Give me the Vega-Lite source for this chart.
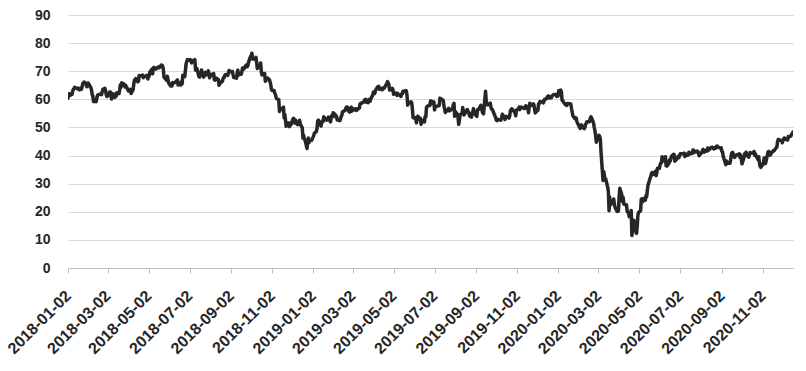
{
"$schema": "https://vega.github.io/schema/vega-lite/v6.json",
"width": 725, "height": 253,
"autosize": "none",
"padding": {"left": 68, "top": 15, "right": 13, "bottom": 103},
"background": "white",
"config": {"view": {"stroke": null}},
"data": {"values": [
{"d":"2018-01-02","v":60.37},{"d":"2018-01-03","v":61.63},{"d":"2018-01-04","v":62.01},{"d":"2018-01-05","v":61.44},{"d":"2018-01-08","v":61.73},{"d":"2018-01-09","v":62.96},{"d":"2018-01-10","v":63.57},{"d":"2018-01-11","v":63.8},{"d":"2018-01-12","v":64.3},{"d":"2018-01-16","v":63.73},{"d":"2018-01-17","v":63.97},{"d":"2018-01-18","v":63.95},{"d":"2018-01-19","v":63.37},{"d":"2018-01-22","v":63.57},{"d":"2018-01-23","v":64.47},{"d":"2018-01-24","v":65.61},{"d":"2018-01-25","v":65.51},{"d":"2018-01-26","v":66.14},{"d":"2018-01-29","v":65.56},{"d":"2018-01-30","v":64.5},{"d":"2018-01-31","v":64.73},
{"d":"2018-02-01","v":65.8},{"d":"2018-02-02","v":65.45},{"d":"2018-02-05","v":64.15},{"d":"2018-02-06","v":63.39},{"d":"2018-02-07","v":61.79},{"d":"2018-02-08","v":61.15},{"d":"2018-02-09","v":59.2},{"d":"2018-02-12","v":59.29},{"d":"2018-02-13","v":59.19},{"d":"2018-02-14","v":60.6},{"d":"2018-02-15","v":61.34},{"d":"2018-02-16","v":61.68},{"d":"2018-02-20","v":61.9},{"d":"2018-02-21","v":61.68},{"d":"2018-02-22","v":62.77},{"d":"2018-02-23","v":63.55},{"d":"2018-02-26","v":63.91},{"d":"2018-02-27","v":63.01},{"d":"2018-02-28","v":61.64},
{"d":"2018-03-01","v":60.99},{"d":"2018-03-02","v":61.25},{"d":"2018-03-05","v":62.57},{"d":"2018-03-06","v":62.6},{"d":"2018-03-07","v":61.15},{"d":"2018-03-08","v":60.12},{"d":"2018-03-09","v":62.04},{"d":"2018-03-12","v":61.36},{"d":"2018-03-13","v":60.71},{"d":"2018-03-14","v":61.96},{"d":"2018-03-15","v":61.19},{"d":"2018-03-16","v":62.34},{"d":"2018-03-19","v":62.06},{"d":"2018-03-20","v":63.4},{"d":"2018-03-21","v":65.17},{"d":"2018-03-22","v":64.3},{"d":"2018-03-23","v":65.88},{"d":"2018-03-26","v":65.55},{"d":"2018-03-27","v":65.25},{"d":"2018-03-28","v":64.38},{"d":"2018-03-29","v":64.94},
{"d":"2018-04-02","v":63.01},{"d":"2018-04-03","v":63.51},{"d":"2018-04-04","v":63.37},{"d":"2018-04-05","v":63.54},{"d":"2018-04-06","v":62.06},{"d":"2018-04-09","v":63.42},{"d":"2018-04-10","v":65.51},{"d":"2018-04-11","v":66.82},{"d":"2018-04-12","v":67.07},{"d":"2018-04-13","v":67.39},{"d":"2018-04-16","v":66.22},{"d":"2018-04-17","v":66.52},{"d":"2018-04-18","v":68.47},{"d":"2018-04-19","v":68.29},{"d":"2018-04-20","v":68.38},{"d":"2018-04-23","v":68.64},{"d":"2018-04-24","v":67.7},{"d":"2018-04-25","v":68.05},{"d":"2018-04-26","v":68.19},{"d":"2018-04-27","v":68.1},{"d":"2018-04-30","v":68.57},
{"d":"2018-05-01","v":67.25},{"d":"2018-05-02","v":67.93},{"d":"2018-05-03","v":68.43},{"d":"2018-05-04","v":69.72},{"d":"2018-05-07","v":70.73},{"d":"2018-05-08","v":69.06},{"d":"2018-05-09","v":71.14},{"d":"2018-05-10","v":71.36},{"d":"2018-05-11","v":70.7},{"d":"2018-05-14","v":70.96},{"d":"2018-05-15","v":71.31},{"d":"2018-05-16","v":71.49},{"d":"2018-05-17","v":71.49},{"d":"2018-05-18","v":71.28},{"d":"2018-05-21","v":72.24},{"d":"2018-05-22","v":72.13},{"d":"2018-05-23","v":71.84},{"d":"2018-05-24","v":70.71},{"d":"2018-05-25","v":67.88},{"d":"2018-05-29","v":66.73},{"d":"2018-05-30","v":68.21},{"d":"2018-05-31","v":67.04},
{"d":"2018-06-01","v":65.81},{"d":"2018-06-04","v":64.75},{"d":"2018-06-05","v":65.52},{"d":"2018-06-06","v":64.73},{"d":"2018-06-07","v":65.95},{"d":"2018-06-08","v":65.74},{"d":"2018-06-11","v":66.1},{"d":"2018-06-12","v":66.36},{"d":"2018-06-13","v":66.64},{"d":"2018-06-14","v":66.89},{"d":"2018-06-15","v":65.06},{"d":"2018-06-18","v":65.85},{"d":"2018-06-19","v":65.07},{"d":"2018-06-20","v":66.22},{"d":"2018-06-21","v":65.54},{"d":"2018-06-22","v":68.58},{"d":"2018-06-25","v":68.08},{"d":"2018-06-26","v":70.53},{"d":"2018-06-27","v":72.76},{"d":"2018-06-28","v":73.45},{"d":"2018-06-29","v":74.15},
{"d":"2018-07-02","v":73.94},{"d":"2018-07-03","v":74.14},{"d":"2018-07-05","v":72.94},{"d":"2018-07-06","v":73.8},{"d":"2018-07-09","v":73.85},{"d":"2018-07-10","v":74.11},{"d":"2018-07-11","v":70.38},{"d":"2018-07-12","v":70.33},{"d":"2018-07-13","v":71.01},{"d":"2018-07-16","v":68.06},{"d":"2018-07-17","v":67.91},{"d":"2018-07-18","v":68.76},{"d":"2018-07-19","v":69.46},{"d":"2018-07-20","v":70.46},{"d":"2018-07-23","v":67.89},{"d":"2018-07-24","v":68.52},{"d":"2018-07-25","v":69.3},{"d":"2018-07-26","v":69.61},{"d":"2018-07-27","v":68.69},{"d":"2018-07-30","v":70.13},{"d":"2018-07-31","v":68.76},
{"d":"2018-08-01","v":67.66},{"d":"2018-08-02","v":68.96},{"d":"2018-08-03","v":68.49},{"d":"2018-08-06","v":69.01},{"d":"2018-08-07","v":69.17},{"d":"2018-08-08","v":66.94},{"d":"2018-08-09","v":66.81},{"d":"2018-08-10","v":67.63},{"d":"2018-08-13","v":67.2},{"d":"2018-08-14","v":67.04},{"d":"2018-08-15","v":65.01},{"d":"2018-08-16","v":65.46},{"d":"2018-08-17","v":65.91},{"d":"2018-08-20","v":66.43},{"d":"2018-08-21","v":67.35},{"d":"2018-08-22","v":67.86},{"d":"2018-08-23","v":67.83},{"d":"2018-08-24","v":68.72},{"d":"2018-08-27","v":68.87},{"d":"2018-08-28","v":68.53},{"d":"2018-08-29","v":69.51},{"d":"2018-08-30","v":70.25},{"d":"2018-08-31","v":69.8},
{"d":"2018-09-04","v":69.87},{"d":"2018-09-05","v":68.72},{"d":"2018-09-06","v":67.77},{"d":"2018-09-07","v":67.75},{"d":"2018-09-10","v":67.54},{"d":"2018-09-11","v":69.25},{"d":"2018-09-12","v":70.37},{"d":"2018-09-13","v":68.59},{"d":"2018-09-14","v":68.99},{"d":"2018-09-17","v":68.91},{"d":"2018-09-18","v":69.85},{"d":"2018-09-19","v":71.12},{"d":"2018-09-20","v":70.8},{"d":"2018-09-21","v":70.78},{"d":"2018-09-24","v":72.08},{"d":"2018-09-25","v":72.28},{"d":"2018-09-26","v":71.57},{"d":"2018-09-27","v":72.12},{"d":"2018-09-28","v":73.25},
{"d":"2018-10-01","v":75.3},{"d":"2018-10-02","v":75.23},{"d":"2018-10-03","v":76.41},{"d":"2018-10-04","v":74.33},{"d":"2018-10-05","v":74.34},{"d":"2018-10-08","v":74.29},{"d":"2018-10-09","v":74.96},{"d":"2018-10-10","v":73.17},{"d":"2018-10-11","v":70.97},{"d":"2018-10-12","v":71.34},{"d":"2018-10-15","v":71.78},{"d":"2018-10-16","v":72.92},{"d":"2018-10-17","v":69.75},{"d":"2018-10-18","v":68.65},{"d":"2018-10-19","v":69.12},{"d":"2018-10-22","v":69.17},{"d":"2018-10-23","v":66.43},{"d":"2018-10-24","v":66.82},{"d":"2018-10-25","v":67.33},{"d":"2018-10-26","v":67.59},{"d":"2018-10-29","v":67.04},{"d":"2018-10-30","v":66.18},{"d":"2018-10-31","v":65.31},
{"d":"2018-11-01","v":63.69},{"d":"2018-11-02","v":63.14},{"d":"2018-11-05","v":63.1},{"d":"2018-11-06","v":62.21},{"d":"2018-11-07","v":61.67},{"d":"2018-11-08","v":60.67},{"d":"2018-11-09","v":60.19},{"d":"2018-11-12","v":59.93},{"d":"2018-11-13","v":55.69},{"d":"2018-11-14","v":56.25},{"d":"2018-11-15","v":56.46},{"d":"2018-11-16","v":56.46},{"d":"2018-11-19","v":57.2},{"d":"2018-11-20","v":53.43},{"d":"2018-11-21","v":54.63},{"d":"2018-11-23","v":50.42},{"d":"2018-11-26","v":51.63},{"d":"2018-11-27","v":51.56},{"d":"2018-11-28","v":50.29},{"d":"2018-11-29","v":51.45},{"d":"2018-11-30","v":50.93},
{"d":"2018-12-03","v":52.95},{"d":"2018-12-04","v":53.25},{"d":"2018-12-05","v":52.89},{"d":"2018-12-06","v":51.49},{"d":"2018-12-07","v":52.61},{"d":"2018-12-10","v":51.0},{"d":"2018-12-11","v":51.65},{"d":"2018-12-12","v":51.15},{"d":"2018-12-13","v":52.58},{"d":"2018-12-14","v":51.2},{"d":"2018-12-17","v":49.88},{"d":"2018-12-18","v":46.24},{"d":"2018-12-19","v":47.2},{"d":"2018-12-20","v":45.88},{"d":"2018-12-21","v":45.59},{"d":"2018-12-24","v":42.53},{"d":"2018-12-26","v":46.22},{"d":"2018-12-27","v":44.61},{"d":"2018-12-28","v":45.33},{"d":"2018-12-31","v":45.41},
{"d":"2019-01-02","v":46.54},{"d":"2019-01-03","v":47.09},{"d":"2019-01-04","v":47.96},{"d":"2019-01-07","v":48.52},{"d":"2019-01-08","v":49.78},{"d":"2019-01-09","v":52.36},{"d":"2019-01-10","v":52.59},{"d":"2019-01-11","v":51.59},{"d":"2019-01-14","v":50.51},{"d":"2019-01-15","v":52.11},{"d":"2019-01-16","v":52.31},{"d":"2019-01-17","v":52.07},{"d":"2019-01-18","v":53.8},{"d":"2019-01-22","v":52.57},{"d":"2019-01-23","v":52.62},{"d":"2019-01-24","v":53.13},{"d":"2019-01-25","v":53.69},{"d":"2019-01-28","v":51.99},{"d":"2019-01-29","v":53.31},{"d":"2019-01-30","v":54.23},{"d":"2019-01-31","v":53.79},
{"d":"2019-02-01","v":55.26},{"d":"2019-02-04","v":54.56},{"d":"2019-02-05","v":53.66},{"d":"2019-02-06","v":54.01},{"d":"2019-02-07","v":52.64},{"d":"2019-02-08","v":52.72},{"d":"2019-02-11","v":52.41},{"d":"2019-02-12","v":53.1},{"d":"2019-02-13","v":53.9},{"d":"2019-02-14","v":54.41},{"d":"2019-02-15","v":55.59},{"d":"2019-02-19","v":56.09},{"d":"2019-02-20","v":56.92},{"d":"2019-02-21","v":57.26},{"d":"2019-02-22","v":57.26},{"d":"2019-02-25","v":55.48},{"d":"2019-02-26","v":55.5},{"d":"2019-02-27","v":56.94},{"d":"2019-02-28","v":57.22},
{"d":"2019-03-01","v":55.8},{"d":"2019-03-04","v":56.59},{"d":"2019-03-05","v":56.56},{"d":"2019-03-06","v":56.22},{"d":"2019-03-07","v":56.66},{"d":"2019-03-08","v":56.07},{"d":"2019-03-11","v":56.79},{"d":"2019-03-12","v":56.87},{"d":"2019-03-13","v":58.26},{"d":"2019-03-14","v":58.61},{"d":"2019-03-15","v":58.52},{"d":"2019-03-18","v":59.09},{"d":"2019-03-19","v":59.03},{"d":"2019-03-20","v":59.83},{"d":"2019-03-21","v":59.98},{"d":"2019-03-22","v":59.04},{"d":"2019-03-25","v":58.82},{"d":"2019-03-26","v":59.94},{"d":"2019-03-27","v":59.41},{"d":"2019-03-28","v":59.3},{"d":"2019-03-29","v":60.14},
{"d":"2019-04-01","v":61.59},{"d":"2019-04-02","v":62.58},{"d":"2019-04-03","v":62.46},{"d":"2019-04-04","v":62.1},{"d":"2019-04-05","v":63.08},{"d":"2019-04-08","v":64.4},{"d":"2019-04-09","v":63.98},{"d":"2019-04-10","v":64.61},{"d":"2019-04-11","v":63.58},{"d":"2019-04-12","v":63.89},{"d":"2019-04-15","v":63.4},{"d":"2019-04-16","v":64.05},{"d":"2019-04-17","v":63.76},{"d":"2019-04-18","v":64.0},{"d":"2019-04-22","v":65.7},{"d":"2019-04-23","v":66.3},{"d":"2019-04-24","v":65.89},{"d":"2019-04-25","v":65.21},{"d":"2019-04-26","v":63.3},{"d":"2019-04-29","v":63.5},{"d":"2019-04-30","v":63.91},
{"d":"2019-05-01","v":63.6},{"d":"2019-05-02","v":61.81},{"d":"2019-05-03","v":61.94},{"d":"2019-05-06","v":62.25},{"d":"2019-05-07","v":61.4},{"d":"2019-05-08","v":62.12},{"d":"2019-05-09","v":61.7},{"d":"2019-05-10","v":61.66},{"d":"2019-05-13","v":61.04},{"d":"2019-05-14","v":61.78},{"d":"2019-05-15","v":62.02},{"d":"2019-05-16","v":62.87},{"d":"2019-05-17","v":62.76},{"d":"2019-05-20","v":63.1},{"d":"2019-05-21","v":62.99},{"d":"2019-05-22","v":61.42},{"d":"2019-05-23","v":57.91},{"d":"2019-05-24","v":58.63},{"d":"2019-05-28","v":59.14},{"d":"2019-05-29","v":58.81},{"d":"2019-05-30","v":56.59},{"d":"2019-05-31","v":53.5},
{"d":"2019-06-03","v":53.25},{"d":"2019-06-04","v":53.48},{"d":"2019-06-05","v":51.68},{"d":"2019-06-06","v":52.59},{"d":"2019-06-07","v":53.99},{"d":"2019-06-10","v":53.26},{"d":"2019-06-11","v":53.27},{"d":"2019-06-12","v":51.14},{"d":"2019-06-13","v":52.28},{"d":"2019-06-14","v":52.51},{"d":"2019-06-17","v":51.93},{"d":"2019-06-18","v":53.9},{"d":"2019-06-19","v":53.76},{"d":"2019-06-20","v":57.07},{"d":"2019-06-21","v":57.43},{"d":"2019-06-24","v":57.9},{"d":"2019-06-25","v":57.83},{"d":"2019-06-26","v":59.38},{"d":"2019-06-27","v":59.43},{"d":"2019-06-28","v":58.47},
{"d":"2019-07-01","v":59.09},{"d":"2019-07-02","v":56.25},{"d":"2019-07-03","v":57.34},{"d":"2019-07-05","v":57.51},{"d":"2019-07-08","v":57.66},{"d":"2019-07-09","v":57.83},{"d":"2019-07-10","v":60.43},{"d":"2019-07-11","v":60.2},{"d":"2019-07-12","v":60.21},{"d":"2019-07-15","v":59.58},{"d":"2019-07-16","v":57.62},{"d":"2019-07-17","v":56.78},{"d":"2019-07-18","v":55.3},{"d":"2019-07-19","v":55.63},{"d":"2019-07-22","v":56.22},{"d":"2019-07-23","v":56.77},{"d":"2019-07-24","v":55.88},{"d":"2019-07-25","v":56.02},{"d":"2019-07-26","v":56.2},{"d":"2019-07-29","v":56.87},{"d":"2019-07-30","v":58.05},{"d":"2019-07-31","v":58.58},
{"d":"2019-08-01","v":53.95},{"d":"2019-08-02","v":55.66},{"d":"2019-08-05","v":54.69},{"d":"2019-08-06","v":53.63},{"d":"2019-08-07","v":51.09},{"d":"2019-08-08","v":52.54},{"d":"2019-08-09","v":54.5},{"d":"2019-08-12","v":54.93},{"d":"2019-08-13","v":57.1},{"d":"2019-08-14","v":55.23},{"d":"2019-08-15","v":54.47},{"d":"2019-08-16","v":54.87},{"d":"2019-08-19","v":56.21},{"d":"2019-08-20","v":56.34},{"d":"2019-08-21","v":55.68},{"d":"2019-08-22","v":55.35},{"d":"2019-08-23","v":54.17},{"d":"2019-08-26","v":53.64},{"d":"2019-08-27","v":54.93},{"d":"2019-08-28","v":55.78},{"d":"2019-08-29","v":56.71},{"d":"2019-08-30","v":55.1},
{"d":"2019-09-03","v":53.94},{"d":"2019-09-04","v":56.26},{"d":"2019-09-05","v":56.3},{"d":"2019-09-06","v":56.52},{"d":"2019-09-09","v":57.85},{"d":"2019-09-10","v":57.4},{"d":"2019-09-11","v":55.75},{"d":"2019-09-12","v":55.09},{"d":"2019-09-13","v":54.85},{"d":"2019-09-16","v":62.9},{"d":"2019-09-17","v":59.34},{"d":"2019-09-18","v":58.11},{"d":"2019-09-19","v":58.13},{"d":"2019-09-20","v":58.09},{"d":"2019-09-23","v":58.64},{"d":"2019-09-24","v":57.29},{"d":"2019-09-25","v":56.49},{"d":"2019-09-26","v":56.41},{"d":"2019-09-27","v":55.91},{"d":"2019-09-30","v":54.07},
{"d":"2019-10-01","v":53.62},{"d":"2019-10-02","v":52.64},{"d":"2019-10-03","v":52.45},{"d":"2019-10-04","v":52.81},{"d":"2019-10-07","v":52.75},{"d":"2019-10-08","v":52.63},{"d":"2019-10-09","v":52.59},{"d":"2019-10-10","v":53.55},{"d":"2019-10-11","v":54.7},{"d":"2019-10-14","v":53.59},{"d":"2019-10-15","v":52.81},{"d":"2019-10-16","v":53.36},{"d":"2019-10-17","v":53.93},{"d":"2019-10-18","v":53.78},{"d":"2019-10-21","v":53.31},{"d":"2019-10-22","v":54.16},{"d":"2019-10-23","v":55.97},{"d":"2019-10-24","v":56.23},{"d":"2019-10-25","v":56.66},{"d":"2019-10-28","v":55.81},{"d":"2019-10-29","v":55.54},{"d":"2019-10-30","v":55.06},{"d":"2019-10-31","v":54.18},
{"d":"2019-11-01","v":56.2},{"d":"2019-11-04","v":56.54},{"d":"2019-11-05","v":57.23},{"d":"2019-11-06","v":56.35},{"d":"2019-11-07","v":57.15},{"d":"2019-11-08","v":57.24},{"d":"2019-11-11","v":56.86},{"d":"2019-11-12","v":56.8},{"d":"2019-11-13","v":57.12},{"d":"2019-11-14","v":56.77},{"d":"2019-11-15","v":57.72},{"d":"2019-11-18","v":57.05},{"d":"2019-11-19","v":55.21},{"d":"2019-11-20","v":57.11},{"d":"2019-11-21","v":58.58},{"d":"2019-11-22","v":57.77},{"d":"2019-11-25","v":58.01},{"d":"2019-11-26","v":58.41},{"d":"2019-11-27","v":58.11},{"d":"2019-11-29","v":55.17},
{"d":"2019-12-02","v":55.96},{"d":"2019-12-03","v":56.1},{"d":"2019-12-04","v":58.43},{"d":"2019-12-05","v":58.43},{"d":"2019-12-06","v":59.2},{"d":"2019-12-09","v":59.02},{"d":"2019-12-10","v":59.24},{"d":"2019-12-11","v":58.76},{"d":"2019-12-12","v":59.18},{"d":"2019-12-13","v":60.07},{"d":"2019-12-16","v":60.21},{"d":"2019-12-17","v":60.94},{"d":"2019-12-18","v":60.93},{"d":"2019-12-19","v":61.22},{"d":"2019-12-20","v":60.44},{"d":"2019-12-23","v":60.52},{"d":"2019-12-24","v":61.11},{"d":"2019-12-26","v":61.68},{"d":"2019-12-27","v":61.72},{"d":"2019-12-30","v":61.68},{"d":"2019-12-31","v":61.06},
{"d":"2020-01-02","v":61.18},{"d":"2020-01-03","v":63.05},{"d":"2020-01-06","v":63.27},{"d":"2020-01-07","v":62.7},{"d":"2020-01-08","v":59.61},{"d":"2020-01-09","v":59.56},{"d":"2020-01-10","v":59.04},{"d":"2020-01-13","v":58.08},{"d":"2020-01-14","v":58.23},{"d":"2020-01-15","v":57.81},{"d":"2020-01-16","v":58.52},{"d":"2020-01-17","v":58.54},{"d":"2020-01-21","v":58.34},{"d":"2020-01-22","v":56.74},{"d":"2020-01-23","v":55.59},{"d":"2020-01-24","v":54.19},{"d":"2020-01-27","v":53.14},{"d":"2020-01-28","v":53.48},{"d":"2020-01-29","v":53.33},{"d":"2020-01-30","v":52.14},{"d":"2020-01-31","v":51.56},
{"d":"2020-02-03","v":50.11},{"d":"2020-02-04","v":49.61},{"d":"2020-02-05","v":50.75},{"d":"2020-02-06","v":50.95},{"d":"2020-02-07","v":50.32},{"d":"2020-02-10","v":49.57},{"d":"2020-02-11","v":49.94},{"d":"2020-02-12","v":51.17},{"d":"2020-02-13","v":51.42},{"d":"2020-02-14","v":52.05},{"d":"2020-02-18","v":52.05},{"d":"2020-02-19","v":53.29},{"d":"2020-02-20","v":53.78},{"d":"2020-02-21","v":53.38},{"d":"2020-02-24","v":51.43},{"d":"2020-02-25","v":49.9},{"d":"2020-02-26","v":48.73},{"d":"2020-02-27","v":47.09},{"d":"2020-02-28","v":44.76},
{"d":"2020-03-02","v":46.75},{"d":"2020-03-03","v":47.18},{"d":"2020-03-04","v":46.78},{"d":"2020-03-05","v":45.9},{"d":"2020-03-06","v":41.28},{"d":"2020-03-09","v":31.13},{"d":"2020-03-10","v":34.36},{"d":"2020-03-11","v":32.98},{"d":"2020-03-12","v":31.5},{"d":"2020-03-13","v":31.73},{"d":"2020-03-16","v":28.7},{"d":"2020-03-17","v":26.95},{"d":"2020-03-18","v":20.37},{"d":"2020-03-19","v":25.22},{"d":"2020-03-20","v":22.43},{"d":"2020-03-23","v":23.36},{"d":"2020-03-24","v":24.01},{"d":"2020-03-25","v":24.49},{"d":"2020-03-26","v":22.6},{"d":"2020-03-27","v":21.51},{"d":"2020-03-30","v":20.09},{"d":"2020-03-31","v":20.48},
{"d":"2020-04-01","v":20.31},{"d":"2020-04-02","v":25.32},{"d":"2020-04-03","v":28.34},{"d":"2020-04-06","v":26.08},{"d":"2020-04-07","v":23.63},{"d":"2020-04-08","v":25.09},{"d":"2020-04-09","v":22.76},{"d":"2020-04-13","v":22.41},{"d":"2020-04-14","v":20.11},{"d":"2020-04-15","v":19.87},{"d":"2020-04-16","v":19.87},{"d":"2020-04-17","v":18.27},{"d":"2020-04-20","v":20.43},{"d":"2020-04-21","v":11.57},{"d":"2020-04-22","v":13.78},{"d":"2020-04-23","v":16.5},{"d":"2020-04-24","v":16.94},{"d":"2020-04-27","v":12.78},{"d":"2020-04-28","v":12.34},{"d":"2020-04-29","v":15.06},{"d":"2020-04-30","v":18.84},
{"d":"2020-05-01","v":19.78},{"d":"2020-05-04","v":20.39},{"d":"2020-05-05","v":24.56},{"d":"2020-05-06","v":23.99},{"d":"2020-05-07","v":23.55},{"d":"2020-05-08","v":24.74},{"d":"2020-05-11","v":24.14},{"d":"2020-05-12","v":25.78},{"d":"2020-05-13","v":25.29},{"d":"2020-05-14","v":27.56},{"d":"2020-05-15","v":29.43},{"d":"2020-05-18","v":31.82},{"d":"2020-05-19","v":32.5},{"d":"2020-05-20","v":33.49},{"d":"2020-05-21","v":33.92},{"d":"2020-05-22","v":33.25},{"d":"2020-05-26","v":34.35},{"d":"2020-05-27","v":32.81},{"d":"2020-05-28","v":33.71},{"d":"2020-05-29","v":35.49},
{"d":"2020-06-01","v":35.44},{"d":"2020-06-02","v":36.81},{"d":"2020-06-03","v":37.29},{"d":"2020-06-04","v":37.41},{"d":"2020-06-05","v":39.55},{"d":"2020-06-08","v":38.19},{"d":"2020-06-09","v":38.94},{"d":"2020-06-10","v":39.6},{"d":"2020-06-11","v":36.34},{"d":"2020-06-12","v":36.26},{"d":"2020-06-15","v":37.12},{"d":"2020-06-16","v":38.38},{"d":"2020-06-17","v":37.96},{"d":"2020-06-18","v":38.84},{"d":"2020-06-19","v":39.75},{"d":"2020-06-22","v":40.46},{"d":"2020-06-23","v":40.37},{"d":"2020-06-24","v":38.01},{"d":"2020-06-25","v":38.72},{"d":"2020-06-26","v":38.49},{"d":"2020-06-29","v":39.7},{"d":"2020-06-30","v":39.27},
{"d":"2020-07-01","v":39.82},{"d":"2020-07-02","v":40.65},{"d":"2020-07-06","v":40.63},{"d":"2020-07-07","v":40.62},{"d":"2020-07-08","v":40.9},{"d":"2020-07-09","v":39.62},{"d":"2020-07-10","v":40.55},{"d":"2020-07-13","v":40.1},{"d":"2020-07-14","v":40.29},{"d":"2020-07-15","v":41.2},{"d":"2020-07-16","v":40.75},{"d":"2020-07-17","v":40.59},{"d":"2020-07-20","v":40.81},{"d":"2020-07-21","v":41.96},{"d":"2020-07-22","v":41.9},{"d":"2020-07-23","v":41.07},{"d":"2020-07-24","v":41.29},{"d":"2020-07-27","v":41.6},{"d":"2020-07-28","v":41.04},{"d":"2020-07-29","v":41.27},{"d":"2020-07-30","v":39.92},{"d":"2020-07-31","v":40.27},
{"d":"2020-08-03","v":41.01},{"d":"2020-08-04","v":41.7},{"d":"2020-08-05","v":42.19},{"d":"2020-08-06","v":41.95},{"d":"2020-08-07","v":41.22},{"d":"2020-08-10","v":41.94},{"d":"2020-08-11","v":41.61},{"d":"2020-08-12","v":42.67},{"d":"2020-08-13","v":42.24},{"d":"2020-08-14","v":42.01},{"d":"2020-08-17","v":42.89},{"d":"2020-08-18","v":42.89},{"d":"2020-08-19","v":42.93},{"d":"2020-08-20","v":42.82},{"d":"2020-08-21","v":42.34},{"d":"2020-08-24","v":42.62},{"d":"2020-08-25","v":43.35},{"d":"2020-08-26","v":43.39},{"d":"2020-08-27","v":43.04},{"d":"2020-08-28","v":42.97},{"d":"2020-08-31","v":42.61},
{"d":"2020-09-01","v":42.76},{"d":"2020-09-02","v":41.51},{"d":"2020-09-03","v":41.37},{"d":"2020-09-04","v":39.77},{"d":"2020-09-08","v":36.76},{"d":"2020-09-09","v":38.05},{"d":"2020-09-10","v":37.3},{"d":"2020-09-11","v":37.33},{"d":"2020-09-14","v":37.26},{"d":"2020-09-15","v":38.28},{"d":"2020-09-16","v":40.16},{"d":"2020-09-17","v":40.97},{"d":"2020-09-18","v":41.11},{"d":"2020-09-21","v":39.31},{"d":"2020-09-22","v":39.8},{"d":"2020-09-23","v":39.93},{"d":"2020-09-24","v":40.31},{"d":"2020-09-25","v":40.25},{"d":"2020-09-28","v":40.6},{"d":"2020-09-29","v":39.29},{"d":"2020-09-30","v":40.22},
{"d":"2020-10-01","v":38.72},{"d":"2020-10-02","v":37.05},{"d":"2020-10-05","v":39.22},{"d":"2020-10-06","v":40.67},{"d":"2020-10-07","v":39.95},{"d":"2020-10-08","v":41.19},{"d":"2020-10-09","v":40.6},{"d":"2020-10-12","v":39.43},{"d":"2020-10-13","v":40.2},{"d":"2020-10-14","v":41.04},{"d":"2020-10-15","v":40.96},{"d":"2020-10-16","v":40.88},{"d":"2020-10-19","v":40.83},{"d":"2020-10-20","v":41.46},{"d":"2020-10-21","v":40.03},{"d":"2020-10-22","v":40.64},{"d":"2020-10-23","v":39.85},{"d":"2020-10-26","v":38.56},{"d":"2020-10-27","v":39.57},{"d":"2020-10-28","v":37.39},{"d":"2020-10-29","v":36.17},{"d":"2020-10-30","v":35.79},
{"d":"2020-11-02","v":36.81},{"d":"2020-11-03","v":37.66},{"d":"2020-11-04","v":39.15},{"d":"2020-11-05","v":38.79},{"d":"2020-11-06","v":37.14},{"d":"2020-11-09","v":40.29},{"d":"2020-11-10","v":41.36},{"d":"2020-11-11","v":41.45},{"d":"2020-11-12","v":41.12},{"d":"2020-11-13","v":40.13},{"d":"2020-11-16","v":41.34},{"d":"2020-11-17","v":41.43},{"d":"2020-11-18","v":41.82},{"d":"2020-11-19","v":41.74},{"d":"2020-11-20","v":42.15},{"d":"2020-11-23","v":43.06},{"d":"2020-11-24","v":44.91},{"d":"2020-11-25","v":45.71},{"d":"2020-11-27","v":45.53},{"d":"2020-11-30","v":45.34},
{"d":"2020-12-01","v":44.55},{"d":"2020-12-02","v":45.28},{"d":"2020-12-03","v":45.64},{"d":"2020-12-04","v":46.26},{"d":"2020-12-07","v":45.76},{"d":"2020-12-08","v":45.6},{"d":"2020-12-09","v":45.52},{"d":"2020-12-10","v":46.78},{"d":"2020-12-11","v":46.57},{"d":"2020-12-14","v":46.99},{"d":"2020-12-15","v":47.62},{"d":"2020-12-16","v":47.82},{"d":"2020-12-17","v":48.36}
]},
"mark": {"type": "line", "color": "#262626", "strokeWidth": 3.5, "strokeJoin": "round", "strokeCap": "round", "clip": true},
"encoding": {
  "x": {"field": "d", "type": "temporal", "title": null,
    "scale": {"type": "utc", "domain": [{"year": 2018, "month": 1, "date": 2, "utc": true}, {"year": 2020, "month": 12, "date": 17, "utc": true}]},
    "axis": {
      "values": [
        {"year": 2018, "month": 1, "date": 2, "utc": true}, {"year": 2018, "month": 3, "date": 2, "utc": true}, {"year": 2018, "month": 5, "date": 2, "utc": true}, {"year": 2018, "month": 7, "date": 2, "utc": true}, {"year": 2018, "month": 9, "date": 2, "utc": true}, {"year": 2018, "month": 11, "date": 2, "utc": true},
        {"year": 2019, "month": 1, "date": 2, "utc": true}, {"year": 2019, "month": 3, "date": 2, "utc": true}, {"year": 2019, "month": 5, "date": 2, "utc": true}, {"year": 2019, "month": 7, "date": 2, "utc": true}, {"year": 2019, "month": 9, "date": 2, "utc": true}, {"year": 2019, "month": 11, "date": 2, "utc": true},
        {"year": 2020, "month": 1, "date": 2, "utc": true}, {"year": 2020, "month": 3, "date": 2, "utc": true}, {"year": 2020, "month": 5, "date": 2, "utc": true}, {"year": 2020, "month": 7, "date": 2, "utc": true}, {"year": 2020, "month": 9, "date": 2, "utc": true}, {"year": 2020, "month": 11, "date": 2, "utc": true}
      ],
      "labelExpr": "utcFormat(datum.value, '%Y-%m-%d')",
      "labelAngle": -45, "labelAlign": "right", "labelBaseline": "middle",
      "labelFont": "Liberation Sans", "labelFontWeight": "bold", "labelFontSize": 16, "labelColor": "#262626",
      "labelPadding": 20, "labelOverlap": false, "labelFlush": false, "labelBound": false,
      "tickSize": 5, "tickColor": "#bfbfbf", "tickWidth": 1,
      "domainColor": "#bfbfbf", "domainWidth": 1, "grid": false
    }
  },
  "y": {"field": "v", "type": "quantitative", "title": null,
    "scale": {"domain": [0, 90], "nice": false, "zero": true},
    "axis": {
      "values": [0, 10, 20, 30, 40, 50, 60, 70, 80, 90],
      "domain": false, "ticks": false, "labelPadding": 18,
      "labelFont": "Liberation Sans", "labelFontWeight": "bold", "labelFontSize": 14, "labelColor": "#262626",
      "grid": true, "gridColor": "#d9d9d9", "gridWidth": 1
    }
  }
}
}
